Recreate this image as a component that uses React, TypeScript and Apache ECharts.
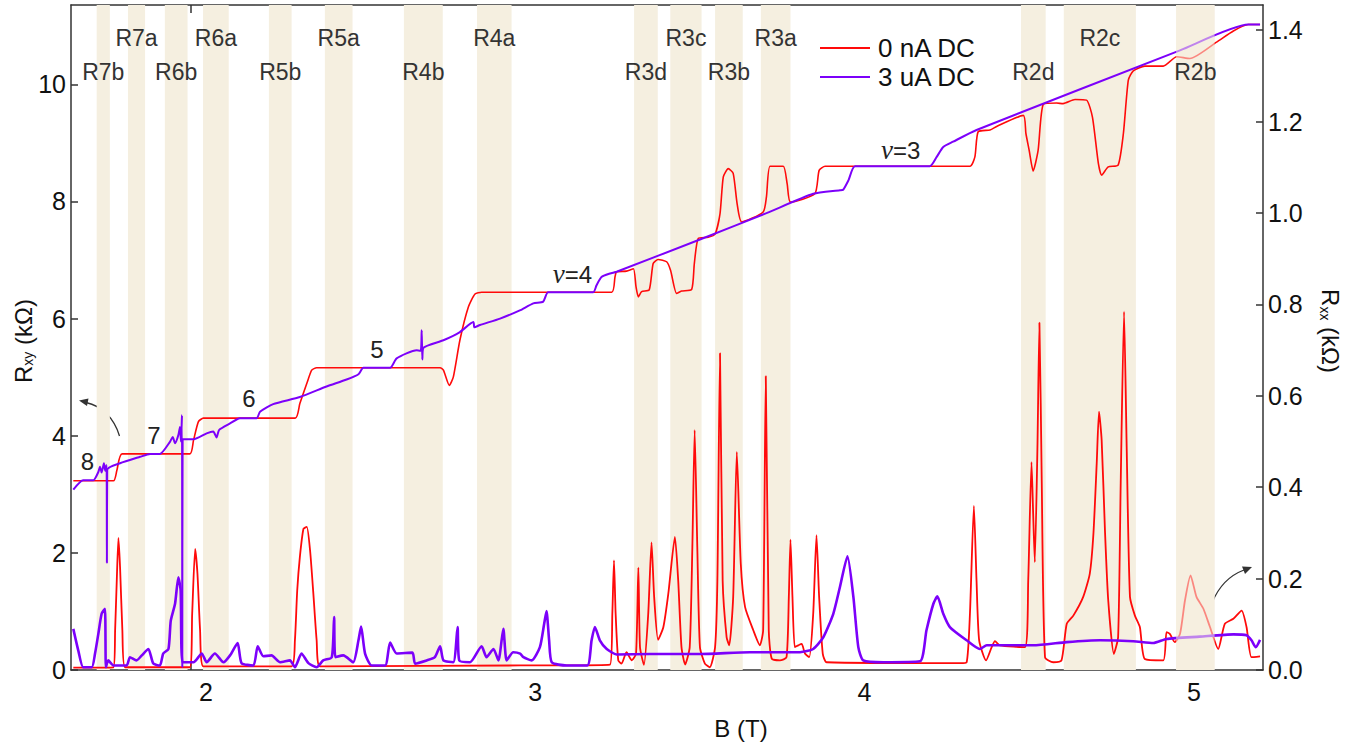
import React, { useEffect, useRef } from 'react';
import * as echarts from 'echarts';

const FONT = '"Liberation Sans", Arial, Helvetica, sans-serif';
const SERIF = '"Liberation Serif", "DejaVu Serif", serif';

// shaded regions (B in T)
const bandNames = ['R7b', 'R7a', 'R6b', 'R6a', 'R5b', 'R5a', 'R4b', 'R4a', 'R3d', 'R3c', 'R3b', 'R3a', 'R2d', 'R2c', 'R2b'];
const bandStart = [1.668, 1.763, 1.875, 1.991, 2.191, 2.361, 2.601, 2.823, 3.300, 3.410, 3.546, 3.685, 4.475, 4.605, 4.946];
const bandEnd = [1.708, 1.815, 1.944, 2.069, 2.260, 2.445, 2.719, 2.928, 3.372, 3.505, 3.630, 3.775, 4.550, 4.824, 5.063];
const bandRow = [2, 1, 2, 1, 2, 1, 2, 1, 2, 1, 2, 1, 2, 1, 2];
const overlayBand = 'R2b';

const xTickValues = [1.954, 2.844, 3.734, 4.624];
const xLabelValues = [2, 3, 4, 5];
const rxyTicks = [0, 2, 4, 6, 8, 10];
const rxxTicks = [0, 0.2, 0.4, 0.6, 0.8, 1.0, 1.2, 1.4];

const seriesNames = ['0 nA DC', '3 uA DC'];

// Rxy, 0 nA DC (kΩ)
const redHall: [number, number][] = [
  [1.597, 3.23], [1.719, 3.23], [1.729, 3.40], [1.745, 3.69], [1.951, 3.69], [1.962, 3.92], [1.977, 4.24], [1.992, 4.30],
  [2.271, 4.30], [2.285, 4.55], [2.306, 4.89], [2.321, 5.12], [2.336, 5.16], [2.711, 5.16], [2.721, 5.12], [2.739, 4.86],
  [2.751, 5.00], [2.771, 5.63], [2.797, 6.20], [2.817, 6.42], [2.837, 6.45], [3.232, 6.45], [3.242, 6.71], [3.247, 6.80],
  [3.277, 6.81], [3.298, 6.85], [3.306, 6.54], [3.313, 6.37], [3.323, 6.46], [3.346, 6.49], [3.358, 6.94], [3.373, 7.01],
  [3.399, 6.97], [3.411, 6.82], [3.429, 6.43], [3.444, 6.47], [3.475, 6.50], [3.483, 6.94], [3.495, 7.37], [3.525, 7.39],
  [3.546, 7.44], [3.561, 7.79], [3.571, 8.42], [3.586, 8.56], [3.601, 8.48], [3.613, 7.96], [3.627, 7.65], [3.692, 7.82],
  [3.702, 8.08], [3.713, 8.60], [3.753, 8.60], [3.765, 8.30], [3.775, 7.99], [3.849, 8.13], [3.862, 8.53], [3.880, 8.60],
  [4.320, 8.60], [4.335, 8.76], [4.345, 9.19], [4.381, 9.22], [4.401, 9.28], [4.482, 9.47], [4.490, 9.16], [4.500, 8.87],
  [4.512, 8.52], [4.527, 8.87], [4.543, 9.66], [4.583, 9.68], [4.603, 9.67], [4.639, 9.74], [4.674, 9.73], [4.692, 9.44],
  [4.710, 8.65], [4.720, 8.45], [4.740, 8.59], [4.770, 8.62], [4.786, 9.16], [4.801, 10.07], [4.816, 10.23], [4.851, 10.31],
  [4.907, 10.31], [4.948, 10.47], [4.988, 10.44], [5.069, 10.72], [5.120, 10.91], [5.165, 11.02], [5.201, 11.02],
];

// Rxy, 3 uA DC (kΩ)
const purpleHall: [number, number][] = [
  [1.597, 3.08], [1.627, 3.24], [1.658, 3.24], [1.673, 3.38], [1.678, 3.47], [1.683, 3.37], [1.690, 3.53], [1.694, 3.40],
  [1.698, 3.50], [1.699, 1.83], [1.700, 3.42], [1.739, 3.53], [1.800, 3.64], [1.830, 3.69], [1.860, 3.69], [1.891, 3.90],
  [1.899, 3.98], [1.906, 3.87], [1.916, 4.01], [1.921, 4.15], [1.924, 3.90], [1.927, 4.35], [1.928, 0.05], [1.929, 3.94],
  [1.962, 3.94], [2.002, 4.04], [2.022, 4.07], [2.032, 3.97], [2.040, 4.10], [2.073, 4.21], [2.103, 4.30], [2.154, 4.30],
  [2.164, 4.41], [2.204, 4.54], [2.285, 4.66], [2.366, 4.84], [2.427, 4.96], [2.463, 5.05], [2.478, 5.16], [2.559, 5.16],
  [2.579, 5.32], [2.640, 5.46], [2.652, 5.45], [2.655, 5.80], [2.657, 5.30], [2.660, 5.50], [2.721, 5.63], [2.771, 5.77],
  [2.812, 5.94], [2.815, 5.85], [2.832, 5.89], [2.893, 6.00], [2.953, 6.14], [2.994, 6.26], [3.024, 6.29], [3.039, 6.45],
  [3.176, 6.45], [3.186, 6.57], [3.201, 6.71], [3.227, 6.77], [3.247, 6.80], [3.500, 7.35], [3.702, 7.80], [3.844, 8.13],
  [3.925, 8.19], [3.935, 8.20], [3.951, 8.36], [3.971, 8.60], [4.198, 8.60], [4.219, 8.76], [4.239, 8.93], [4.269, 9.02],
  [4.340, 9.22], [4.958, 10.58], [5.165, 11.02], [5.201, 11.02],
];

// Rxx, 0 nA DC (kΩ)
const redLong: [number, number][] = [
  [1.597, 0.005], [1.719, 0.006], [1.724, 0.087], [1.729, 0.196], [1.734, 0.289], [1.739, 0.225], [1.746, 0.087], [1.754, 0.006],
  [1.951, 0.006], [1.958, 0.123], [1.967, 0.265], [1.974, 0.211], [1.982, 0.087], [1.992, 0.008], [2.260, 0.008], [2.270, 0.065],
  [2.277, 0.174], [2.285, 0.247], [2.296, 0.309], [2.306, 0.313], [2.316, 0.262], [2.326, 0.167], [2.336, 0.065], [2.346, 0.008],
  [2.954, 0.010], [3.227, 0.012], [3.234, 0.123], [3.239, 0.240], [3.244, 0.123], [3.252, 0.021], [3.262, 0.014], [3.277, 0.039],
  [3.293, 0.021], [3.306, 0.036], [3.313, 0.224], [3.318, 0.050], [3.330, 0.011], [3.343, 0.123], [3.353, 0.279], [3.361, 0.160],
  [3.373, 0.066], [3.389, 0.094], [3.404, 0.167], [3.424, 0.291], [3.434, 0.196], [3.444, 0.050], [3.455, 0.012], [3.469, 0.050],
  [3.477, 0.269], [3.484, 0.525], [3.492, 0.269], [3.500, 0.050], [3.515, 0.014], [3.530, 0.006], [3.546, 0.050], [3.553, 0.196],
  [3.561, 0.693], [3.569, 0.196], [3.581, 0.072], [3.589, 0.054], [3.601, 0.160], [3.612, 0.477], [3.624, 0.233], [3.637, 0.138],
  [3.662, 0.087], [3.682, 0.054], [3.692, 0.087], [3.700, 0.643], [3.709, 0.087], [3.718, 0.025], [3.743, 0.021], [3.763, 0.028],
  [3.770, 0.160], [3.775, 0.285], [3.781, 0.160], [3.788, 0.050], [3.799, 0.054], [3.809, 0.057], [3.819, 0.036], [3.832, 0.028],
  [3.844, 0.123], [3.854, 0.295], [3.862, 0.160], [3.873, 0.036], [3.885, 0.017], [4.290, 0.015], [4.310, 0.017], [4.320, 0.123],
  [4.332, 0.359], [4.340, 0.196], [4.348, 0.065], [4.369, 0.021], [4.386, 0.050], [4.396, 0.063], [4.411, 0.054], [4.487, 0.050],
  [4.497, 0.196], [4.507, 0.455], [4.512, 0.342], [4.517, 0.236], [4.525, 0.488], [4.531, 0.760], [4.538, 0.415], [4.548, 0.028],
  [4.573, 0.017], [4.598, 0.021], [4.614, 0.101], [4.634, 0.119], [4.664, 0.160], [4.684, 0.211], [4.695, 0.298], [4.705, 0.452],
  [4.712, 0.565], [4.720, 0.503], [4.730, 0.306], [4.740, 0.152], [4.757, 0.035], [4.770, 0.072], [4.778, 0.415], [4.788, 0.784],
  [4.796, 0.488], [4.806, 0.160], [4.821, 0.119], [4.836, 0.094], [4.851, 0.024], [4.907, 0.021], [4.917, 0.083], [4.927, 0.079],
  [4.942, 0.061], [4.958, 0.079], [4.973, 0.152], [4.990, 0.207], [5.008, 0.160], [5.029, 0.134], [5.049, 0.094], [5.074, 0.046],
  [5.094, 0.101], [5.120, 0.112], [5.145, 0.130], [5.160, 0.094], [5.175, 0.028], [5.201, 0.030],
];

// Rxx, 3 uA DC (kΩ)
const purpleLong: [number, number][] = [
  [1.597, 0.090], [1.612, 0.043], [1.627, 0.006], [1.653, 0.006], [1.663, 0.036], [1.673, 0.079], [1.683, 0.123], [1.693, 0.134],
  [1.696, 0.006], [1.703, 0.021], [1.719, 0.010], [1.759, 0.010], [1.769, 0.028], [1.789, 0.021], [1.805, 0.032], [1.825, 0.046],
  [1.840, 0.014], [1.860, 0.010], [1.870, 0.036], [1.886, 0.046], [1.893, 0.108], [1.906, 0.145], [1.916, 0.203], [1.923, 0.174],
  [1.929, 0.017], [1.962, 0.017], [1.987, 0.036], [2.002, 0.017], [2.027, 0.036], [2.053, 0.017], [2.073, 0.032], [2.096, 0.059],
  [2.108, 0.015], [2.144, 0.010], [2.157, 0.052], [2.174, 0.030], [2.199, 0.032], [2.225, 0.017], [2.255, 0.021], [2.270, 0.006],
  [2.290, 0.036], [2.311, 0.015], [2.336, 0.006], [2.356, 0.021], [2.382, 0.028], [2.389, 0.116], [2.393, 0.028], [2.417, 0.032],
  [2.447, 0.017], [2.463, 0.065], [2.471, 0.095], [2.483, 0.036], [2.503, 0.010], [2.544, 0.010], [2.559, 0.060], [2.579, 0.036],
  [2.627, 0.038], [2.635, 0.014], [2.670, 0.021], [2.695, 0.028], [2.711, 0.052], [2.721, 0.021], [2.751, 0.017], [2.764, 0.094],
  [2.769, 0.021], [2.802, 0.017], [2.837, 0.052], [2.852, 0.028], [2.873, 0.046], [2.888, 0.021], [2.903, 0.090], [2.913, 0.021],
  [2.933, 0.039], [2.954, 0.036], [2.964, 0.028], [2.989, 0.021], [3.014, 0.050], [3.027, 0.101], [3.034, 0.129], [3.042, 0.065],
  [3.050, 0.017], [3.095, 0.010], [3.158, 0.010], [3.171, 0.065], [3.181, 0.094], [3.196, 0.065], [3.217, 0.046], [3.247, 0.034],
  [3.348, 0.035], [3.500, 0.035], [3.652, 0.039], [3.804, 0.039], [3.844, 0.046], [3.875, 0.072], [3.905, 0.123], [3.925, 0.181],
  [3.948, 0.249], [3.966, 0.160], [3.981, 0.050], [3.996, 0.021], [4.057, 0.017], [4.168, 0.019], [4.188, 0.087], [4.209, 0.145],
  [4.221, 0.161], [4.239, 0.123], [4.259, 0.094], [4.310, 0.065], [4.350, 0.046], [4.371, 0.054], [4.512, 0.054], [4.614, 0.061],
  [4.715, 0.065], [4.816, 0.063], [4.877, 0.059], [4.917, 0.068], [5.018, 0.073], [5.120, 0.078], [5.160, 0.076], [5.175, 0.065],
  [5.188, 0.050], [5.201, 0.066],
];

// filling-factor annotations on Rxy
const fillingText = ['8', '7', '6', '5', '{nu|ν}=4', '{nu|ν}=3'];
const fillingB = [1.640, 1.842, 2.130, 2.519, 3.113, 4.110];
const fillingR = [3.556, 4.0, 4.635, 5.472, 6.756, 8.87];

const RED = '#ff0a0a';
const PURPLE = '#7c00fa';
const AXIS = '#333';

function buildOption() {
  const overlayIdx = bandNames.indexOf(overlayBand);
  const bandData = bandNames.map((n, i) => [
    {
      xAxis: bandStart[i],
      name: n,
      label: { show: i !== overlayIdx, distance: bandRow[i] === 1 ? 21 : 55 },
    },
    { xAxis: bandEnd[i] },
  ]);
  const labelStyle = {
    show: true,
    position: 'insideTop',
    fontSize: 23,
    color: '#333',
    fontFamily: FONT,
    formatter: '{b}',
  };

  const xCommon = {
    type: 'value',
    min: 1.59,
    max: 5.21,
    splitLine: { show: false },
    axisLine: { show: true, onZero: false, lineStyle: { color: AXIS, width: 1.5 } },
    axisTick: { show: true, inside: true, length: 8, customValues: xTickValues, lineStyle: { color: AXIS, width: 1.5 } },
  };

  const lineCommon = { type: 'line', xAxisIndex: 0, symbol: 'none', silent: true, smooth: 0.2 };

  return {
    animation: false,
    backgroundColor: '#ffffff',
    grid: { left: 71, right: 108, top: 5, bottom: 76, containLabel: false },
    legend: {
      data: seriesNames,
      orient: 'vertical',
      left: 815,
      top: 30,
      icon: 'rect',
      itemWidth: 50,
      itemHeight: 2,
      itemGap: 3,
      textStyle: { fontSize: 26, color: '#111', fontFamily: FONT, padding: [0, 0, 0, 3], lineHeight: 26 },
    },
    xAxis: [
      {
        ...xCommon,
        position: 'bottom',
        axisLabel: { show: true, customValues: xLabelValues, fontSize: 25, color: '#111', fontFamily: FONT, margin: 9 },
      },
      {
        ...xCommon,
        position: 'top',
        axisLabel: { show: false },
      },
    ],
    yAxis: [
      {
        type: 'value',
        min: 0,
        max: 11.354,
        position: 'left',
        splitLine: { show: false },
        axisLine: { show: true, onZero: false, lineStyle: { color: AXIS, width: 1.5 } },
        axisTick: { show: true, inside: true, length: 7, customValues: rxyTicks, lineStyle: { color: AXIS, width: 1.5 } },
        axisLabel: { customValues: rxyTicks, fontSize: 25, color: '#111', fontFamily: FONT, margin: 5 },
      },
      {
        type: 'value',
        min: 0,
        max: 1.455,
        position: 'right',
        splitLine: { show: false },
        axisLine: { show: true, onZero: false, lineStyle: { color: AXIS, width: 1.5 } },
        axisTick: { show: true, inside: true, length: 7, customValues: rxxTicks, lineStyle: { color: AXIS, width: 1.5 } },
        axisLabel: {
          customValues: rxxTicks,
          fontSize: 25,
          color: '#111',
          fontFamily: FONT,
          margin: 5,
          formatter: (v: number) => v.toFixed(1),
        },
      },
    ],
    series: [
      {
        ...lineCommon,
        name: seriesNames[0],
        yAxisIndex: 1,
        data: redLong,
        z: 2,
        lineStyle: { color: RED, width: 1.8 },
        itemStyle: { color: RED },
        markArea: {
          silent: true,
          z: 1,
          itemStyle: { color: '#f5efe0' },
          label: labelStyle,
          data: bandData,
        },
      },
      {
        ...lineCommon,
        name: seriesNames[1],
        yAxisIndex: 1,
        data: purpleLong,
        z: 3,
        lineStyle: { color: PURPLE, width: 2.6 },
        itemStyle: { color: PURPLE },
      },
      {
        ...lineCommon,
        name: seriesNames[0],
        yAxisIndex: 0,
        data: redHall,
        z: 4,
        lineStyle: { color: RED, width: 1.6 },
        itemStyle: { color: RED },
      },
      {
        ...lineCommon,
        name: seriesNames[1],
        yAxisIndex: 0,
        data: purpleHall,
        z: 5,
        lineStyle: { color: PURPLE, width: 2 },
        itemStyle: { color: PURPLE },
        markArea: {
          silent: true,
          z: 10,
          itemStyle: { color: 'rgba(245,239,224,0.55)' },
          label: labelStyle,
          data: [
            [
              { xAxis: bandStart[overlayIdx], name: bandNames[overlayIdx], label: { show: true, distance: 55 } },
              { xAxis: bandEnd[overlayIdx] },
            ],
          ],
        },
        markPoint: {
          silent: true,
          symbol: 'circle',
          symbolSize: 1,
          itemStyle: { color: 'rgba(0,0,0,0)' },
          label: {
            show: true,
            position: 'inside',
            fontSize: 24,
            color: '#222',
            fontFamily: FONT,
            rich: { nu: { fontFamily: SERIF, fontStyle: 'italic', fontSize: 27, color: '#222' } },
          },
          data: fillingText.map((t, i) => ({
            coord: [fillingB[i], fillingR[i]],
            value: i,
            label: { formatter: t },
          })),
        },
      },
    ],
    graphic: [
      {
        type: 'text',
        x: 22,
        y: 341,
        rotation: Math.PI / 2,
        silent: true,
        style: {
          text: '{r|R}{s|xy}{r| (kΩ)}',
          align: 'center',
          verticalAlign: 'middle',
          fill: '#111',
          rich: {
            r: { fontSize: 24, fontFamily: FONT, fill: '#111', lineHeight: 26, verticalAlign: 'bottom' },
            s: { fontSize: 14, fontFamily: FONT, fill: '#111', lineHeight: 14, verticalAlign: 'bottom' },
          },
        },
      },
      {
        type: 'text',
        x: 1331,
        y: 331,
        rotation: -Math.PI / 2,
        silent: true,
        style: {
          text: '{r|R}{s|xx}{r| (kΩ)}',
          align: 'center',
          verticalAlign: 'middle',
          fill: '#111',
          rich: {
            r: { fontSize: 24, fontFamily: FONT, fill: '#111', lineHeight: 26, verticalAlign: 'bottom' },
            s: { fontSize: 14, fontFamily: FONT, fill: '#111', lineHeight: 14, verticalAlign: 'bottom' },
          },
        },
      },
      {
        type: 'text',
        x: 741,
        y: 728,
        silent: true,
        style: { text: 'B (T)', fontSize: 24, fontFamily: FONT, fill: '#111', align: 'center', verticalAlign: 'middle' },
      },
      {
        type: 'bezierCurve',
        silent: true,
        shape: { x1: 119.5, y1: 436, cpx1: 114, cpy1: 418, cpx2: 102, cpy2: 406, x2: 86, y2: 402.5 },
        style: { stroke: '#333', lineWidth: 1.3, fill: 'none' },
      },
      {
        type: 'polygon',
        silent: true,
        shape: { points: [[79, 400.5], [88.5, 398.5], [87, 406]] },
        style: { fill: '#333' },
      },
      {
        type: 'bezierCurve',
        silent: true,
        shape: { x1: 1212, y1: 603, cpx1: 1218, cpy1: 588, cpx2: 1228, cpy2: 576, x2: 1244, y2: 570 },
        style: { stroke: '#333', lineWidth: 1.3, fill: 'none' },
      },
      {
        type: 'polygon',
        silent: true,
        shape: { points: [[1252, 567], [1245, 574], [1242, 566.5]] },
        style: { fill: '#333' },
      },
    ],
  };
}

export default function App() {
  const ref = useRef<HTMLDivElement>(null);
  useEffect(() => {
    document.body.style.margin = '0';
    document.body.style.overflow = 'hidden';
    const chart = echarts.init(ref.current as HTMLDivElement, null, { renderer: 'svg' });
    chart.setOption(buildOption() as any);
    return () => chart.dispose();
  }, []);
  return <div ref={ref} style={{ width: 1371, height: 746 }} />;
}
